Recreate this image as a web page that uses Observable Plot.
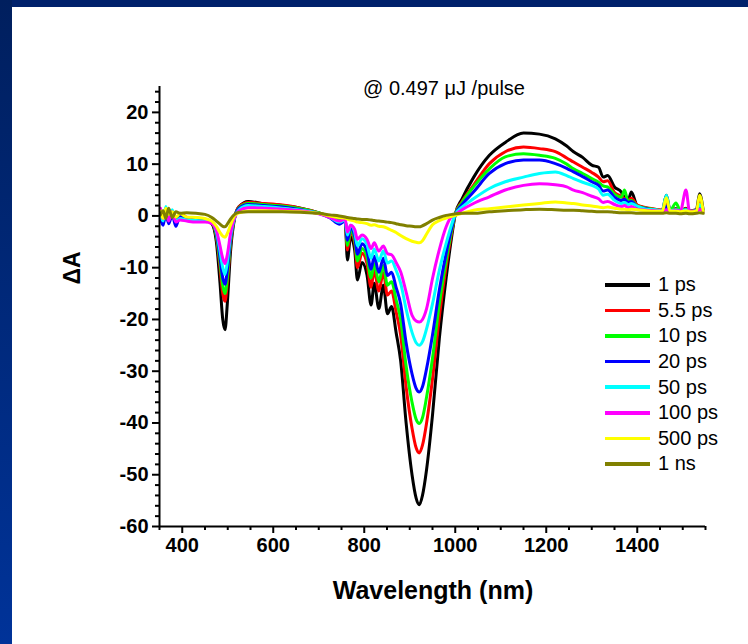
<!DOCTYPE html>
<html><head><meta charset="utf-8">
<script src="https://cdn.jsdelivr.net/npm/d3@7"></script>
<script src="https://cdn.jsdelivr.net/npm/@observablehq/plot@0.6"></script>
<style>
html,body{margin:0;padding:0;background:#fff;}
#wrap{position:relative;width:748px;height:644px;overflow:hidden;font-family:"Liberation Sans",Arial,sans-serif;background:#fff;}
#chart{position:absolute;left:0;top:0;}
#topband{position:absolute;left:0;top:0;width:748px;height:7px;background:#00216b;}
#leftband{position:absolute;left:0;top:0;width:12px;height:644px;background:linear-gradient(#001f5e,#003399);}
#title{position:absolute;left:0;width:888px;top:77px;text-align:center;font-size:20px;color:#000;}
#ylab{position:absolute;left:72px;top:268px;transform:translate(-50%,-50%) rotate(-90deg);font-size:23px;font-weight:bold;white-space:nowrap;}
#xlab{position:absolute;left:0;width:866px;top:576px;text-align:center;font-size:25px;font-weight:bold;}
#legend{position:absolute;left:605px;top:272px;}
.row{height:25.6px;display:flex;align-items:center;font-size:20px;}
.sw{width:45px;height:3.5px;margin-right:8px;}
</style></head>
<body>
<div id="wrap">
  <div id="chart"></div>
  <div id="topband"></div>
  <div id="leftband"></div>
  <div id="title">@ 0.497 μJ /pulse</div>
  <div id="ylab">ΔA</div>
  <div id="xlab">Wavelength (nm)</div>
  <div id="legend"></div>
</div>
<script>
const wavelength = [352,358,364,370,378,386,395,
 410,430,450,465,475,
 483,489,494,499,506,
 515,525,545,580,620,
 660,700,725,745,758,
 763,770,779,785,795,
 806,815,822,832,842,
 851,860,870,880,892,
 905,914,921,928,937,
 950,965,980,993,1000,
 1015,1040,1075,1110,1150,
 1185,1220,1245,1260,1280,
 1300,1315,1325,1335,1350,
 1365,1372,1380,1387,1400,
 1420,1440,1455,1464,1472,
 1485,1495,1507,1515,1530,
 1537,1545];

const dA_1ps = [0.5,-1.5,1.5,-1.0,0.8,-1.5,0.3,
 -0.5,-0.8,-0.8,-1.5,-5,
 -13,-20,-22,-17,-7,
 -0.5,1.8,2.8,2.3,2.0,
 1.5,0.6,-0.2,-1.0,-1.0,
 -8.5,-4.0,-6.6,-12.4,-9.0,
 -11.4,-17.2,-13.0,-17.9,-13.4,
 -18.9,-17.5,-22.5,-28,-40,
 -50,-54.5,-55.8,-54,-49,
 -38.5,-23.7,-12,-3.5,0.3,
 3.3,7.4,11.7,14.2,16.0,
 15.8,14.9,13.5,12.4,11.3,
 9.8,9.4,7.5,7.8,5.6,
 4.6,3.5,3.0,4.6,2.0,
 1.5,1.2,1.1,4.0,1.2,
 1.4,1.0,1.5,1.0,1.2,
 4.3,1.0];

const dA_5_5ps = [0.8,-1.2,1.2,-0.6,1.0,-1.0,0.5,
 -0.3,-0.6,-0.7,-1.3,-4,
 -10,-15,-16.5,-13,-5.5,
 -0.3,1.8,2.6,2.4,2.1,
 1.5,0.6,-0.2,-0.8,-0.8,
 -6.6,-3.2,-5.2,-10,-7.2,
 -9.2,-13.8,-10.5,-14.5,-11,
 -15.3,-14.5,-18.5,-23,-33,
 -41,-44.8,-45.8,-44.3,-40,
 -31.5,-19.5,-9.8,-2.8,0.3,
 2.8,5.9,10.1,12.4,13.3,
 13.0,12.4,11.2,10.4,9.4,
 8.4,7.5,6.6,6.8,4.5,
 3.8,3.3,3.0,3.4,2.1,
 1.6,1.3,1.1,2.5,1.2,
 1.3,1.0,1.4,1.0,1.1,
 2.5,1.0];

const dA_10ps = [1.0,-0.8,0.6,-1.2,0.5,-0.5,0.2,
 -0.4,-0.7,-0.8,-1.3,-3.8,
 -9,-13.5,-15,-12,-5,
 -0.3,1.6,2.4,2.2,1.9,
 1.4,0.6,-0.2,-0.8,-0.8,
 -5.7,-2.8,-4.6,-8.7,-6.3,
 -8.0,-12,-9.2,-12.7,-9.6,
 -13.4,-12.7,-16.2,-20,-29,
 -36,-39.3,-40.1,-39,-35,
 -27.5,-17,-8.6,-2.4,0.3,
 2.6,5.6,9.1,11.4,12.0,
 11.7,11.1,10.0,9.1,8.2,
 7.2,6.5,5.8,5.6,4.2,
 3.6,5.0,2.8,3.0,1.9,
 1.5,1.2,1.0,1.8,1.0,
 2.5,1.0,1.3,0.9,1.0,
 1.5,0.9];

const dA_20ps = [-0.5,-1.8,0.8,-1.5,0.2,-2.0,0.0,
 -0.5,-0.7,-0.9,-1.2,-3.3,
 -8,-12,-13.2,-10.5,-4.5,
 -0.3,1.5,2.2,2.0,1.7,
 1.2,0.5,-0.4,-1.6,-1.0,
 -4.7,-2.3,-3.9,-7.4,-5.4,
 -6.8,-10.3,-7.8,-10.9,-8.2,
 -11.5,-10.9,-13.8,-17,-24.5,
 -30.5,-33.3,-34,-33,-29.5,
 -23,-14.3,-7.2,-2,0.3,
 2.2,4.6,8.2,10.1,10.8,
 10.8,10.1,9.2,8.5,7.6,
 6.6,5.9,4.8,5.0,3.6,
 3.0,3.2,2.6,2.8,1.8,
 1.4,1.1,1.0,1.8,0.9,
 1.0,0.8,1.2,0.8,1.0,
 1.4,0.9];

const dA_50ps = [0.3,-1.0,1.8,-0.8,1.2,-1.0,-0.5,
 -0.8,-0.9,-1.0,-1.3,-3.0,
 -6.8,-10,-11.3,-9,-4,
 -0.3,1.2,2.0,1.8,1.5,
 1.1,0.5,-0.3,-1.2,-0.8,
 -3.7,-1.8,-3.1,-5.8,-4.4,
 -5.5,-8.2,-6.4,-8.7,-6.8,
 -9.1,-8.7,-10.5,-13,-18,
 -22.5,-24.5,-25,-24.3,-21.8,
 -17,-10.5,-5.3,-1.4,0.3,
 1.7,3.3,5.3,6.6,7.5,
 8.2,8.5,7.8,7.2,6.5,
 5.9,5.2,4.0,4.2,3.0,
 2.4,2.6,2.2,2.4,1.9,
 1.3,1.2,1.0,4.0,1.0,
 1.2,1.0,1.2,0.9,1.0,
 2.2,1.0];

const dA_100ps = [1.5,-0.5,1.2,-1.0,0.8,-1.2,-0.8,
 -1.0,-1.2,-1.2,-1.5,-2.8,
 -5.8,-8.2,-9.2,-7.5,-3.5,
 -0.3,1.0,1.6,1.5,1.3,
 1.0,0.4,-0.3,-1.0,-0.6,
 -3.1,-1.8,-2.6,-4.5,-3.7,
 -4.5,-6.3,-5.2,-6.8,-5.8,
 -7.3,-7.5,-9,-10.8,-14.7,
 -19.2,-20.3,-20.5,-20,-17.9,
 -12.1,-6.5,-2.1,0,0.3,
 1.2,2.4,3.7,5.0,5.9,
 6.2,6.0,5.6,5.0,4.5,
 3.8,3.3,2.6,2.8,2.2,
 1.8,2.0,1.6,1.8,1.3,
 1.1,1.0,0.9,1.2,0.9,
 1.0,1.0,5.0,0.9,0.9,
 1.3,0.8];

const dA_500ps = [1.0,-0.5,1.5,0.3,0.8,-0.2,0.4,
 -0.2,-0.3,-0.5,-1.0,-2.0,
 -3.2,-3.9,-4.1,-3.4,-1.8,
 0.0,0.6,0.9,1.0,0.9,
 0.8,0.5,0.0,-0.3,-0.4,
 -0.6,-0.8,-1.0,-1.2,-1.3,
 -1.5,-1.8,-1.7,-2.0,-2.1,
 -2.4,-2.8,-3.2,-3.8,-4.4,
 -4.9,-5.1,-5.2,-4.8,-3.5,
 -1.7,-0.9,-0.4,-0.1,0.1,
 0.5,1.1,1.4,1.7,2.1,
 2.4,2.7,2.5,2.4,2.1,
 1.9,1.7,1.6,1.7,1.5,
 1.3,1.3,1.2,1.3,1.2,
 1.0,0.9,0.9,3.5,0.9,
 0.9,0.8,1.0,0.8,0.9,
 4.0,0.9];

const dA_1ns = [0.2,1.0,-0.5,1.5,-0.3,0.8,0.5,
 0.6,0.5,0.3,-0.3,-1.0,
 -1.6,-2.0,-2.1,-1.6,-0.6,
 0.3,0.7,0.8,0.8,0.8,
 0.7,0.5,0.2,0.0,-0.2,
 -0.3,-0.4,-0.5,-0.6,-0.7,
 -0.7,-0.8,-0.9,-1.0,-1.1,
 -1.2,-1.3,-1.5,-1.7,-1.9,
 -2.0,-2.1,-2.1,-1.9,-1.5,
 -0.8,-0.3,0.1,0.3,0.4,
 0.5,0.5,0.8,1.0,1.2,
 1.3,1.2,1.1,1.1,1.0,
 0.9,0.8,0.8,0.8,0.7,
 0.6,0.6,0.6,0.6,0.5,
 0.5,0.5,0.5,0.6,0.5,
 0.5,0.4,0.5,0.4,0.5,
 0.6,0.5];

const seriesLabels = ["1 ps","5.5 ps","10 ps","20 ps","50 ps","100 ps","500 ps","1 ns"];
const seriesColors = ["#000000","#ff0000","#00ff00","#0000ff","#00ffff","#ff00ff","#ffff00","#808000"];
const seriesValues = [dA_1ps,dA_5_5ps,dA_10ps,dA_20ps,dA_50ps,dA_100ps,dA_500ps,dA_1ns];

const xDomain = [350,1550];
const yDomain = [-60,25];
const xMajorTicks = [400,600,800,1000,1200,1400];
const xMinorTicks = d3.range(350,1551,50).filter(v => !xMajorTicks.includes(v));
const yMajorTicks = [-60,-50,-40,-30,-20,-10,0,10,20];
const yMinorTicks = d3.range(-58,25,2).filter(v => v % 10 !== 0);

const rows = [];
seriesValues.forEach((vals, si) => {
  vals.forEach((v, i) => rows.push({series: seriesLabels[si], wl: wavelength[i], dA: v}));
});

const lineMarks = seriesLabels.map((s, si) =>
  Plot.line(rows.filter(r => r.series === s), {x: "wl", y: "dA", stroke: seriesColors[si], strokeWidth: 3, curve: "monotone-x"})
);

const chart = Plot.plot({
  width: 748,
  height: 644,
  marginLeft: 159,
  marginRight: 43,
  marginTop: 86,
  marginBottom: 118,
  style: {fontFamily: '"Liberation Sans", Arial, sans-serif', color: "#000", background: "transparent"},
  x: {domain: xDomain, label: null},
  y: {domain: yDomain, label: null},
  marks: [
    ...lineMarks,
    Plot.axisX(xMinorTicks, {tickSize: 4, strokeWidth: 2, tickFormat: () => "", label: null}),
    Plot.axisX(xMajorTicks, {tickSize: 7, strokeWidth: 2, tickPadding: 4, tickFormat: d => String(d), fontSize: 20, fontWeight: "bold", label: null}),
    Plot.axisY(yMinorTicks, {tickSize: 4, strokeWidth: 2, tickFormat: () => "", label: null}),
    Plot.axisY(yMajorTicks, {tickSize: 7, strokeWidth: 2, tickPadding: 4, tickFormat: d => String(d), fontSize: 20, fontWeight: "bold", label: null}),
    Plot.ruleX([xDomain[0]], {strokeWidth: 2}),
    Plot.ruleY([yDomain[0]], {strokeWidth: 2})
  ]
});
document.getElementById("chart").appendChild(chart);

const legend = document.getElementById("legend");
seriesLabels.forEach((s, i) => {
  const row = document.createElement("div");
  row.className = "row";
  const sw = document.createElement("div");
  sw.className = "sw";
  sw.style.background = seriesColors[i];
  const t = document.createElement("span");
  t.textContent = s;
  row.appendChild(sw); row.appendChild(t);
  legend.appendChild(row);
});
</script>
</body></html>
